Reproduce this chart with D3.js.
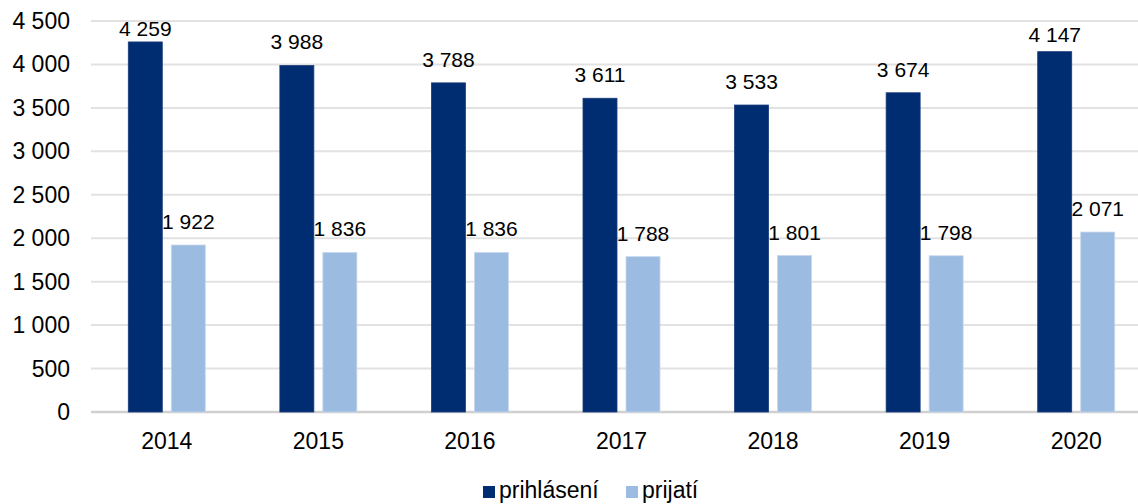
<!DOCTYPE html>
<html>
<head>
<meta charset="utf-8">
<script src="https://cdn.jsdelivr.net/npm/d3@7"></script>
<style>
  body { margin: 0; background: #fff; }
  text { font-family: "Liberation Sans", Arial, sans-serif; fill: #000; }
</style>
</head>
<body>
<div id="chart"></div>
<script>
const years = ["2014", "2015", "2016", "2017", "2018", "2019", "2020"];
const prihlaseni = [4259, 3988, 3788, 3611, 3533, 3674, 4147];
const prijati = [1922, 1836, 1836, 1788, 1801, 1798, 2071];
const seriesNames = ["prihlásení", "prijatí"];
const yTicks = [0, 500, 1000, 1500, 2000, 2500, 3000, 3500, 4000, 4500];

const width = 1138;
const height = 504;
const colors = ["#002c71", "#9bbbe0"];

const fmt = d3.formatLocale({ decimal: ",", thousands: " ", grouping: [3], currency: ["", ""] }).format(",");

const svg = d3.select('#chart').append('svg')
  .attr('width', width)
  .attr('height', height);

const plotLeft = 91;
const plotRight = 1138;

const x = d3.scaleBand().domain(years).range([91, 1152]);
const y = d3.scaleLinear().domain([0, 4500]).range([412, 21]);

// gridlines
svg.selectAll('.grid').data(yTicks).join('line')
  .attr('x1', plotLeft).attr('x2', plotRight)
  .attr('y1', d => y(d)).attr('y2', d => y(d))
  .attr('stroke', d => d === 0 ? '#d0d0d0' : '#e2e2e2')
  .attr('stroke-width', d => d === 0 ? 2.5 : 2);

// y tick labels
svg.selectAll('.ytick').data(yTicks).join('text')
  .attr('x', 70)
  .attr('y', d => y(d) + 8)
  .attr('text-anchor', 'end')
  .style('font-size', '23px')
  .text(d => fmt(d));

const barW = 34;
const gap = 9;
const data = years.map((yr, i) => ({ year: yr, vals: [prihlaseni[i], prijati[i]] }));

// labels near the top edge sit closer to their bars
const topNudge = { "2014": 10, "2020": 6 };

const groups = svg.selectAll('.grp').data(data).join('g')
  .attr('transform', d => `translate(${x(d.year) + x.bandwidth() / 2},0)`);

groups.selectAll('rect').data(d => d.vals).join('rect')
  .attr('x', (d, i) => i === 0 ? -(barW + gap / 2) : gap / 2)
  .attr('y', d => y(d))
  .attr('width', barW)
  .attr('height', d => y(0) - y(d))
  .attr('fill', (d, i) => colors[i])
  .attr('stroke', (d, i) => i === 0 ? '#1a3d7c' : '#c6d8ee')
  .attr('stroke-width', 0.8);

groups.each(function(g) {
  d3.select(this).selectAll('.val').data(g.vals).join('text')
    .attr('x', (d, i) => i === 0 ? -(barW + gap) / 2 : (barW + gap) / 2)
    .attr('y', (d, i) => y(d) - 16 + (i === 0 ? (topNudge[g.year] || 0) : 0))
    .attr('text-anchor', 'middle')
    .style('font-size', '21px')
    .text(d => fmt(d));
});

// x labels
svg.selectAll('.xlab').data(years).join('text')
  .attr('x', d => x(d) + x.bandwidth() / 2)
  .attr('y', 449)
  .attr('text-anchor', 'middle')
  .style('font-size', '23px')
  .text(d => d);

// legend
const legendX = [483, 626];
const legend = svg.selectAll('.leg').data(seriesNames).join('g')
  .attr('transform', (d, i) => `translate(${legendX[i]},486)`);
legend.append('rect')
  .attr('width', 12).attr('height', 12)
  .attr('fill', (d, i) => colors[i]);
legend.append('text')
  .attr('x', 16).attr('y', 11.5)
  .style('font-size', '23px')
  .text(d => d);
</script>
</body>
</html>
